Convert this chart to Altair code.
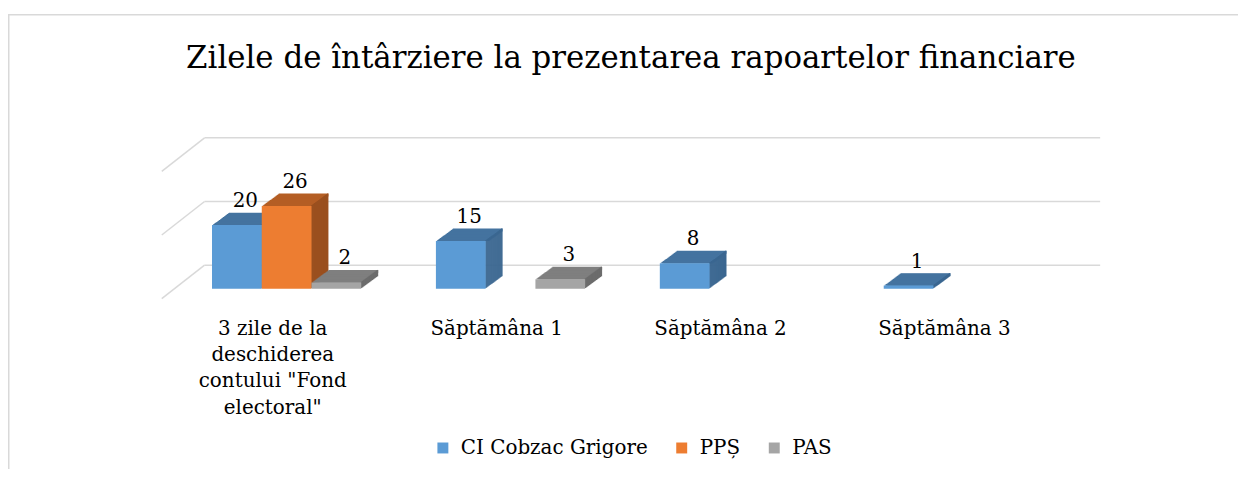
import altair as alt
import pandas as pd

# ---------------- data ----------------
categories = ['3 zile de la\ndeschiderea\ncontului "Fond\nelectoral"',
              "Săptămâna 1", "Săptămâna 2", "Săptămâna 3"]
series = ["CI Cobzac Grigore", "PPȘ", "PAS"]
cobzac = [20, 15, 8, 1]
pps = [26, None, None, None]
pas = [2, 3, None, None]
grid_values = [0, 20, 40]
title_text = "Zilele de întârziere la prezentarea rapoartelor financiare"

front_colors = ["#5B9BD5", "#ED7D31", "#A5A5A5"]
top_colors = ["#44739F", "#B45E24", "#7F7F7F"]
side_colors = ["#3A6690", "#9A4F1E", "#6C6C6C"]

FONT = "DejaVu Serif"

# ---------------- geometry (pixels) ----------------
W, H = 1236, 462          # whole svg = view
PX_X = 50.0               # px per bar slot
X0 = 205.0                # view px of slot 0
PX_Y = 3.2                # px per value unit (front plane)
Y0 = 281.0                # view px of value 0 (front plane)
DEPTH_X, DEPTH_Y = 17, 12.5   # bar depth projection
N = 17
STEP_Y = DEPTH_Y / N
GROUP = 4.5
WALL_DX, WALL_DY = 30.0, 23.7
SIDE_DX, SIDE_DY = -13.0, -10.0

x_dom = [-X0 / PX_X, (W - X0) / PX_X]
y_dom = [(Y0 - H) / PX_Y, Y0 / PX_Y]
xs = alt.Scale(domain=x_dom, nice=False, zero=False)
ys = alt.Scale(domain=y_dom, nice=False, zero=False)

values = [cobzac, pps, pas]

rows, labels = [], []
for i in range(len(categories)):
    for j in range(len(series)):
        v = values[j][i]
        if v is None:
            continue
        left = GROUP * i + j
        right = left + 1
        h_px = v * PX_Y
        ext = min(3.0, h_px)
        # top face strips
        for k in range(1, N + 1):
            rows.append(dict(x=left + k / PX_X, x2=right + k / PX_X,
                             y=v + k * STEP_Y / PX_Y,
                             y2=v + max(0.0, k * STEP_Y - ext) / PX_Y,
                             fill=top_colors[j]))
        # side face strips
        for k in range(1, N + 1):
            rows.append(dict(x=right + (k - 1.5) / PX_X, x2=right + k / PX_X,
                             y=v + k * STEP_Y / PX_Y, y2=k * STEP_Y / PX_Y,
                             fill=side_colors[j]))
        # front face
        rows.append(dict(x=left, x2=right, y=v, y2=0, fill=front_colors[j]))
        labels.append(dict(x=left + 0.5 + (DEPTH_X / 2) / PX_X, y=v, t=str(v)))

faces = pd.DataFrame(rows)
lab_df = pd.DataFrame(labels)

U_L = -0.75
U_R = GROUP * (len(categories) - 1) + 3 + 0.75
grid_df = pd.DataFrame(dict(
    x=[U_L + WALL_DX / PX_X] * len(grid_values),
    x2=[U_R + WALL_DX / PX_X] * len(grid_values),
    y=[g + WALL_DY / PX_Y for g in grid_values]))
diag_df = pd.DataFrame(dict(
    x=[U_L + SIDE_DX / PX_X] * len(grid_values),
    x2=[U_L + WALL_DX / PX_X] * len(grid_values),
    y=[g + SIDE_DY / PX_Y for g in grid_values],
    y2=[g + WALL_DY / PX_Y for g in grid_values]))
cat_df = pd.DataFrame(dict(x=[GROUP * i + 1.5 for i in range(len(categories))],
                           t=categories))
leg_df = pd.DataFrame(dict(s=series))
one = pd.DataFrame(dict(a=[0]))

grid_color = "#D9D9D9"

grid = alt.Chart(grid_df).mark_rule(color=grid_color, strokeWidth=1.5).encode(
    x=alt.X("x:Q", scale=xs, axis=None), x2="x2:Q",
    y=alt.Y("y:Q", scale=ys, axis=None))
diag = alt.Chart(diag_df).mark_rule(color=grid_color, strokeWidth=1.5).encode(
    x=alt.X("x:Q", scale=xs, axis=None), x2="x2:Q",
    y=alt.Y("y:Q", scale=ys, axis=None), y2="y2:Q")

bars = alt.Chart(faces).mark_rect().encode(
    x=alt.X("x:Q", scale=xs, axis=None), x2="x2:Q",
    y=alt.Y("y:Q", scale=ys, axis=None), y2="y2:Q",
    fill=alt.Fill("fill:N", scale=None))

vlabels = alt.Chart(lab_df).mark_text(font=FONT, fontSize=20, color="#000000",
                                      baseline="alphabetic", dy=-18).encode(
    x=alt.X("x:Q", scale=xs, axis=None), y=alt.Y("y:Q", scale=ys, axis=None),
    text="t:N")

cats = alt.Chart(cat_df).mark_text(font=FONT, fontSize=20, color="#000000",
                                   baseline="top", align="center", dx=-14,
                                   lineBreak="\n", lineHeight=26.5).encode(
    x=alt.X("x:Q", scale=xs, axis=None), y=alt.value(311), text="t:N")

title = alt.Chart(one).mark_text(font=FONT, fontSize=31, color="#000000",
                                 baseline="middle", align="center").encode(
    x=alt.value(626), y=alt.value(50), text=alt.value(title_text))

border_l = alt.Chart(one).mark_rule(color=grid_color, strokeWidth=1.5).encode(
    x=alt.value(0.75), y=alt.value(5), y2=alt.value(H))
border_t = alt.Chart(one).mark_rule(color=grid_color, strokeWidth=1.5).encode(
    x=alt.value(0), x2=alt.value(W), y=alt.value(5.75))

legend_layer = alt.Chart(leg_df).mark_square(opacity=1).encode(
    x=alt.value(-50), y=alt.value(-50),
    color=alt.Color("s:N", scale=alt.Scale(domain=series, range=front_colors),
                    legend=alt.Legend(title=None, orient="none", legendX=427,
                                      legendY=431, direction="horizontal",
                                      symbolType="square", symbolSize=121,
                                      symbolStrokeWidth=0, symbolOpacity=1,
                                      labelFont=FONT, labelFontSize=20,
                                      labelLimit=0,
                                      labelColor="#000000", columnPadding=24,
                                      labelOffset=8, padding=0)))

chart = alt.layer(border_l, border_t, grid, diag, bars, vlabels, cats, title,
                  legend_layer).properties(
    width=W, height=H, autosize=alt.AutoSizeParams(type="none"),
    padding={"left": 0, "right": 0, "top": 0, "bottom": 0},
    background="#FFFFFF"
).configure_view(stroke="transparent")

chart.save("out.html", embed_options={"renderer": "svg", "actions": False})
